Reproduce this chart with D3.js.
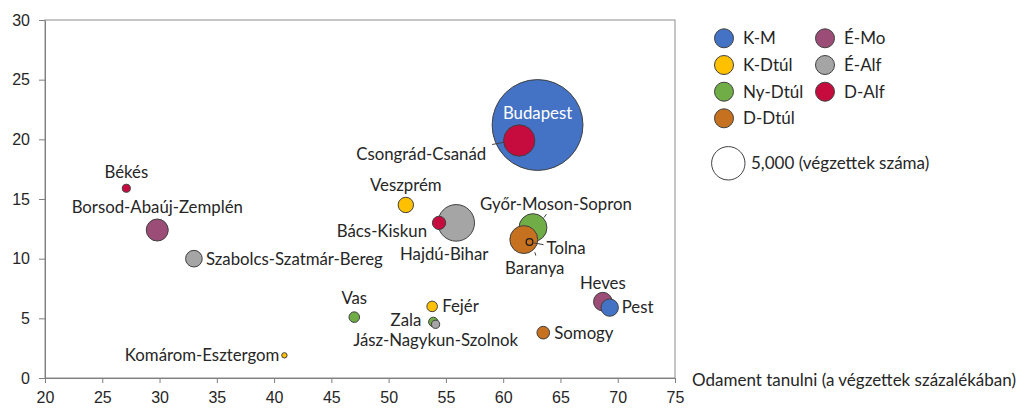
<!DOCTYPE html>
<html>
<head>
<meta charset="utf-8">
<script src="https://cdn.jsdelivr.net/npm/d3@7"></script>
<style>
  html, body { margin: 0; padding: 0; background: #fff; }
  svg { display: block; font-family: Lato, "Open Sans", sans-serif; }
  .axis text { font-size: 16px; fill: #262626; }
  .axis path, .axis line { stroke: #7f7f7f; }
  .lbl { font-size: 16.8px; fill: #262626; }
  .leg { font-size: 17px; fill: #262626; }
</style>
</head>
<body>
<svg id="chart" width="1027" height="409"></svg>
<script>
// data
const counties = ["Budapest", "Csongrád-Csanád", "Békés", "Borsod-Abaúj-Zemplén", "Szabolcs-Szatmár-Bereg",
  "Veszprém", "Hajdú-Bihar", "Bács-Kiskun", "Győr-Moson-Sopron", "Baranya", "Tolna", "Vas", "Fejér",
  "Zala", "Jász-Nagykun-Szolnok", "Heves", "Pest", "Somogy", "Komárom-Esztergom"];
const regionOf = ["K-M", "D-Alf", "D-Alf", "É-Mo", "É-Alf", "K-Dtúl", "É-Alf", "D-Alf", "Ny-Dtúl", "D-Dtúl",
  "D-Dtúl", "Ny-Dtúl", "K-Dtúl", "Ny-Dtúl", "É-Alf", "É-Mo", "K-M", "D-Dtúl", "K-Dtúl"];
const xValues = [63.0, 61.4, 27.1, 29.8, 33.0, 51.5, 55.9, 54.4, 62.6, 61.8, 62.3, 47.0, 53.8, 53.9, 54.1, 68.7, 69.3, 63.5, 40.9];
const yValues = [21.2, 19.9, 15.9, 12.4, 10.0, 14.5, 13.0, 13.0, 12.6, 11.6, 11.4, 5.1, 6.0, 4.7, 4.5, 6.4, 5.9, 3.8, 1.9];
const graduates = [37000, 4400, 290, 2170, 1240, 1060, 6000, 800, 3500, 3500, 200, 500, 500, 400, 300, 1550, 1350, 720, 130];

const regions = ["K-M", "K-Dtúl", "Ny-Dtúl", "D-Dtúl", "É-Mo", "É-Alf", "D-Alf"];
const regionColors = ["#4472c4", "#ffc000", "#70ad47", "#c5711f", "#9b4c77", "#a5a5a5", "#c60b3e"];
const xTicks = [20, 25, 30, 35, 40, 45, 50, 55, 60, 65, 70, 75];
const yTicks = [0, 5, 10, 15, 20, 25, 30];
const refSize = 5000;

// label placement relative to bubble centre: dx, dy, anchor, optional leader line
const labelPos = {
  "Budapest": [0, -12, "middle"],
  "Csongrád-Csanád": [-33, 14, "end", [-27, 4, -15.5, 1.7]],
  "Békés": [0, -16, "middle"],
  "Borsod-Abaúj-Zemplén": [0, -23, "middle"],
  "Szabolcs-Szatmár-Bereg": [12, 0, "start"],
  "Veszprém": [0, -20, "middle"],
  "Hajdú-Bihar": [-12, 31, "middle"],
  "Bács-Kiskun": [-12, 8, "end"],
  "Győr-Moson-Sopron": [23, -24, "middle", [11, -10, 13.5, -13.5]],
  "Baranya": [11, 29, "middle", [11, 12.7, 12, 16]],
  "Tolna": [17, 6, "start", [4.5, 1, 14, 2.7]],
  "Vas": [0, -19, "middle"],
  "Fejér": [10, 0, "start"],
  "Zala": [-12, -2, "end"],
  "Jász-Nagykun-Szolnok": [0, 16, "middle"],
  "Heves": [0, -19, "middle"],
  "Pest": [12, 0, "start"],
  "Somogy": [11, 0, "start"],
  "Komárom-Esztergom": [-5, 0, "end"]
};

const svg = d3.select("#chart");
const plot = { left: 45, right: 675, top: 20, bottom: 378 };

const x = d3.scaleLinear().domain([20, 75]).range([plot.left, plot.right]);
const y = d3.scaleLinear().domain([0, 30]).range([plot.bottom, plot.top]);
const r = d3.scaleSqrt().domain([0, refSize]).range([0, 16.7]);
const color = d3.scaleOrdinal().domain(regions).range(regionColors);

// plot frame
svg.append("rect").attr("x", plot.left).attr("y", plot.top)
  .attr("width", plot.right - plot.left).attr("height", plot.bottom - plot.top)
  .attr("fill", "none").attr("stroke", "#8c8c8c").attr("stroke-width", 1);

svg.append("g").attr("class", "axis")
  .attr("transform", `translate(0,${plot.bottom})`)
  .call(d3.axisBottom(x).tickValues(xTicks).tickSize(5).tickPadding(9).tickSizeOuter(0));

svg.append("g").attr("class", "axis")
  .attr("transform", `translate(${plot.left},0)`)
  .call(d3.axisLeft(y).tickValues(yTicks).tickSize(6).tickPadding(9).tickSizeOuter(0));

svg.append("text").attr("class", "leg").attr("x", 692).attr("y", plot.bottom + 2)
  .attr("dy", "0.35em").text("Odament tanulni (a végzettek százalékában)");

const pts = counties.map((c, i) => ({ name: c, region: regionOf[i], x: xValues[i], y: yValues[i], n: graduates[i] }))
  .sort((a, b) => b.n - a.n);

svg.append("g").selectAll("circle").data(pts).join("circle")
  .attr("cx", d => x(d.x)).attr("cy", d => y(d.y)).attr("r", d => r(d.n))
  .attr("fill", d => color(d.region))
  .attr("stroke", d => d.name === "Tolna" ? "#1a1a1a" : "#404040")
  .attr("stroke-width", d => d.name === "Tolna" ? 1.3 : 1);

const lg = svg.append("g");
pts.forEach(d => {
  const p = labelPos[d.name];
  const cx = x(d.x), cy = y(d.y);
  if (p[3]) {
    lg.append("line").attr("x1", cx + p[3][0]).attr("y1", cy + p[3][1]).attr("x2", cx + p[3][2]).attr("y2", cy + p[3][3])
      .attr("stroke", "#404040").attr("stroke-width", 1);
  }
  lg.append("text").attr("class", "lbl").attr("x", cx + p[0]).attr("y", cy + p[1])
    .attr("dy", "0.35em").attr("text-anchor", p[2])
    .style("fill", d.name === "Budapest" ? "#fff" : null)
    .text(d.name);
});

// legend
const legX = [724, 825], legY = [38.3, 65, 91.7, 118.3];
const leg = svg.append("g");
regions.forEach((reg, i) => {
  const col = i < 4 ? 0 : 1, row = i < 4 ? i : i - 4;
  leg.append("circle").attr("cx", legX[col]).attr("cy", legY[row]).attr("r", 9.5)
    .attr("fill", color(reg)).attr("stroke", "#404040");
  leg.append("text").attr("class", "leg").attr("x", legX[col] + 19).attr("y", legY[row])
    .attr("dy", "0.35em").text(reg);
});
leg.append("circle").attr("cx", 728.3).attr("cy", 163.3).attr("r", r(refSize))
  .attr("fill", "#fff").attr("stroke", "#404040");
leg.append("text").attr("class", "leg").attr("x", 751).attr("y", 163.3).attr("dy", "0.35em")
  .text(d3.format(",")(refSize) + " (végzettek száma)");
</script>
</body>
</html>
